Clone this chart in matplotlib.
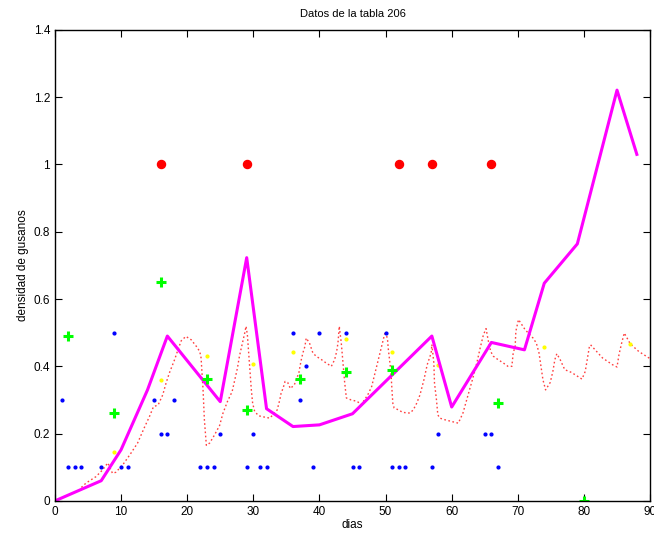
import numpy as np
import matplotlib
matplotlib.use("Agg")
import matplotlib.pyplot as plt

plt.rcParams['font.family'] = ['Liberation Sans', 'DejaVu Sans']

## -- data -- ##
# magenta line
mag_x = [0, 7, 10, 14, 17, 25, 29, 32, 36, 40, 45, 57, 60, 66, 71, 74, 79, 85, 88]
mag_y = [0, 0.06, 0.152, 0.33, 0.49, 0.295, 0.723, 0.274, 0.221, 0.226, 0.259,
         0.49, 0.279, 0.471, 0.449, 0.647, 0.764, 1.221, 1.03]

# red dotted curve
red_x = [4, 4.7, 6.2, 7.2, 8.0, 8.7, 9.2, 10.25, 11.5, 12.5, 13.5, 14.3, 14.9, 15.6,
         16.3, 16.8, 17.3, 18.1, 18.6, 19.1, 19.8, 20.6, 21.4, 21.9, 22.1, 22.4, 22.6,
         22.9, 23.4, 24.1, 24.9, 25.4, 26.1, 26.8, 27.2, 27.6, 27.9, 28.3, 28.7, 28.9,
         29.1, 29.3, 29.5, 29.7, 29.9, 30.2, 30.8, 31.7, 32.5, 33.6, 34.0, 34.2, 34.5,
         34.8, 35.2, 35.6, 36.2, 36.5, 36.9, 37.2, 37.5, 37.8, 38.0, 38.5, 39.0, 39.5,
         40.3, 41.0, 41.8, 42.3, 42.6, 42.8, 43.0, 43.3, 43.56, 43.8, 44.07, 44.8, 45.7,
         46.3, 46.8, 47.3, 47.9, 48.4, 48.9, 49.4, 49.9, 50.0, 50.3, 50.4, 50.6, 50.8,
         50.9, 51.0, 51.1, 51.3, 51.9, 52.6, 53.7, 54.2, 54.7, 55.2, 55.8, 56.3, 56.9,
         57.0, 57.3, 57.4, 57.7, 57.9, 58.2, 59.0, 60.0, 61.0, 61.7, 62.2, 62.7, 63.2,
         63.8, 64.3, 64.8, 65.2, 65.5, 65.9, 66.3, 67.0, 67.8, 68.5, 69.1, 69.3, 69.6,
         69.7, 70.1, 70.6, 71.1, 72.3, 72.8, 73.2, 73.5, 73.8, 74.2, 74.9, 75.3, 75.6,
         75.9, 76.4, 77.1, 78.1, 78.9, 79.7, 80.2, 80.5, 80.8, 81.0, 81.7, 82.8, 84.3,
         85.0, 85.3, 85.7, 86.1, 87.0, 88.3, 89.9]
red_y = [0.04, 0.053, 0.072, 0.092, 0.113, 0.082, 0.085, 0.107, 0.142, 0.172, 0.217,
         0.251, 0.28, 0.285, 0.315, 0.35, 0.38, 0.42, 0.449, 0.476, 0.489, 0.479, 0.459,
         0.444, 0.425, 0.33, 0.241, 0.165, 0.172, 0.195, 0.224, 0.26, 0.296, 0.325, 0.36,
         0.395, 0.43, 0.464, 0.499, 0.519, 0.494, 0.44, 0.385, 0.33, 0.29, 0.266, 0.253,
         0.249, 0.246, 0.27, 0.30, 0.32, 0.335, 0.355, 0.352, 0.334, 0.345, 0.36, 0.382,
         0.415, 0.44, 0.459, 0.484, 0.469, 0.44, 0.43, 0.42, 0.41, 0.40, 0.42, 0.444,
         0.469, 0.519, 0.47, 0.41, 0.355, 0.306, 0.30, 0.296, 0.286, 0.30, 0.315, 0.34,
         0.38, 0.42, 0.459, 0.499, 0.504, 0.479, 0.454, 0.42, 0.385, 0.35, 0.32, 0.29,
         0.276, 0.271, 0.263, 0.261, 0.271, 0.29, 0.315, 0.36, 0.405, 0.44, 0.465, 0.41,
         0.35, 0.30, 0.256, 0.246, 0.241, 0.236, 0.231, 0.261, 0.296, 0.33, 0.365, 0.41,
         0.454, 0.494, 0.512, 0.479, 0.444, 0.43, 0.42, 0.41, 0.40, 0.40, 0.44, 0.459,
         0.504, 0.539, 0.524, 0.509, 0.484, 0.469, 0.44, 0.40, 0.36, 0.33, 0.352, 0.385,
         0.42, 0.4375, 0.42, 0.39, 0.382, 0.372, 0.362, 0.385, 0.42, 0.456, 0.464, 0.449,
         0.425, 0.405, 0.398, 0.435, 0.469, 0.499, 0.467, 0.444, 0.424]

# blue dots
blue_x = [1, 2, 3, 4, 7, 9, 10, 11, 15, 16, 17, 18, 22, 23, 24, 25, 29, 30, 31, 32,
          36, 37, 38, 39, 40, 44, 45, 46, 50, 51, 52, 53, 57, 58, 65, 66, 67]
blue_y = [0.3, 0.1, 0.1, 0.1, 0.1, 0.5, 0.1, 0.1, 0.3, 0.2, 0.2, 0.3, 0.1, 0.1, 0.1,
          0.2, 0.1, 0.2, 0.1, 0.1, 0.5, 0.3, 0.4, 0.1, 0.5, 0.5, 0.1, 0.1, 0.5, 0.1,
          0.1, 0.1, 0.1, 0.2, 0.2, 0.2, 0.1]

# yellow dots
yel_x = [0, 9, 16, 23, 30, 36, 44, 51, 58, 74, 87]
yel_y = [0, 0.144, 0.36, 0.432, 0.408, 0.443, 0.482, 0.444, 0.405, 0.456, 0.466]

# green crosses
grn_x = [2, 9, 16, 23, 29, 37, 44, 51, 67, 80]
grn_y = [0.49, 0.261, 0.65, 0.362, 0.271, 0.362, 0.382, 0.39, 0.291, 0.0]

# red circles
ro_x = [16, 29, 52, 57, 66]
ro_y = [1, 1, 1, 1, 1]

## -- plot -- ##
fig = plt.figure(figsize=(6.54, 5.34), dpi=100)
ax = fig.add_axes([0.084, 0.062, 0.910, 0.882])

ax.plot(red_x, red_y, color="red", linestyle=(0, (1.2, 1.8)), linewidth=1.0, alpha=0.75)
ax.plot(blue_x, blue_y, linestyle="none", marker="o", markersize=2.0, color="blue")
ax.plot(yel_x, yel_y, linestyle="none", marker="o", markersize=2.0, color="yellow")
ax.plot(mag_x, mag_y, color="magenta", linewidth=2.2)
ax.plot(grn_x, grn_y, linestyle="none", marker="+", markersize=7.5, markeredgewidth=2.2,
        color="lime")
ax.plot(ro_x, ro_y, linestyle="none", marker="o", markersize=5.8, color="red")

ax.set_xlim(0, 90)
ax.set_ylim(0, 1.4)
ax.set_xticks(np.arange(0, 91, 10))
ax.set_yticks(np.arange(0, 1.41, 0.2))
ax.set_yticklabels(["0", "0.2", "0.4", "0.6", "0.8", "1", "1.2", "1.4"])
ax.tick_params(direction="in", top=True, right=True, length=5, width=0.8, labelsize=8.5)
for s in ax.spines.values():
    s.set_linewidth(1.0)
ax.set_xlabel("dias", fontsize=8.5, labelpad=1)
ax.set_ylabel("densidad de gusanos", fontsize=8.5, labelpad=3)
ax.set_title("Datos de la tabla 206", fontsize=8, pad=9)

fig.savefig("out.png", dpi=100)
